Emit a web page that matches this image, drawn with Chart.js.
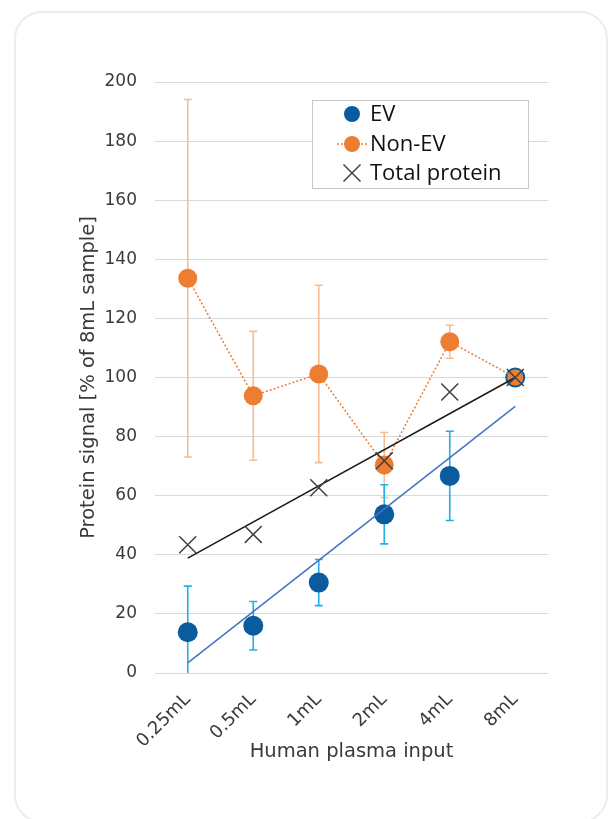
<!DOCTYPE html>
<html>
<head>
<meta charset="utf-8">
<script src="https://cdn.jsdelivr.net/npm/chart.js@4.4.0/dist/chart.umd.min.js"></script>
<style>
  html, body { margin: 0; padding: 0; background: #fff; width: 608px; height: 819px; overflow: hidden; }
  .card { position: absolute; left: 14px; top: 11px; width: 594px; height: 812px; box-sizing: border-box;
          border: 2px solid #ececec; border-radius: 28px; }
  #chart { position: absolute; left: 0; top: 0; }
</style>
</head>
<body>
<div class="card"></div>
<canvas id="chart" width="608" height="819"></canvas>
<script>
// Plasma input volumes on the category axis
const categories = ['0.25mL', '0.5mL', '1mL', '2mL', '4mL', '8mL'];

// Protein signal, % of the 8 mL sample
const evValues     = [13.8, 16.0, 30.6, 53.7, 66.7, 100];
const evErrors     = [15.6, 8.2, 7.8, 10.0, 15.1, 0];
const nonEvValues  = [133.6, 93.8, 101.2, 70.4, 112.1, 100];
const nonEvErrors  = [60.5, 21.8, 30.0, 11.0, 5.6, 0];
const totalProtein = [43.4, 46.9, 62.7, 71.8, 95.1, 100];

// Linear trendlines (end points only, the line spans the gap)
const evTrend    = [3.4, null, null, null, null, 90.2];
const totalTrend = [38.9, null, null, null, null, 100];

const yMin = 0, yMax = 200, yStep = 20;

const EV_BLUE = '#0A5C9E';
const EV_ERR = '#22B0EC';
const NONEV_ORANGE = '#ED7D31';
const NONEV_ERR = '#F7BC94';
const AXIS_TEXT = '#3a3a3a';
const FONT = '"DejaVu Sans", "Liberation Sans", Arial, sans-serif';

// Vertical error bars with caps, drawn beneath the markers
const errorBars = {
  id: 'errorBars',
  beforeDatasetsDraw(chart) {
    const { ctx, chartArea, scales: { y } } = chart;
    ctx.save();
    ctx.beginPath();
    ctx.rect(chartArea.left, chartArea.top, chartArea.right - chartArea.left, chartArea.bottom - chartArea.top);
    ctx.clip();
    chart.data.datasets.forEach((ds, di) => {
      if (!ds.errors) return;
      const meta = chart.getDatasetMeta(di);
      ctx.strokeStyle = ds.errorColor;
      ctx.lineWidth = 1.6;
      meta.data.forEach((pt, i) => {
        const e = ds.errors[i];
        if (!e) return;
        const v = ds.data[i];
        const top = y.getPixelForValue(v + e);
        const bot = y.getPixelForValue(v - e);
        const x = pt.x;
        ctx.beginPath();
        ctx.moveTo(x, top); ctx.lineTo(x, bot);
        ctx.moveTo(x - 4, top); ctx.lineTo(x + 4, top);
        ctx.moveTo(x - 4, bot); ctx.lineTo(x + 4, bot);
        ctx.stroke();
      });
    });
    ctx.restore();
  }
};

// Boxed legend placed inside the plot area
const boxLegend = {
  id: 'boxLegend',
  afterDraw(chart) {
    const { ctx } = chart;
    const bx = 312, by = 100, bw = 216, bh = 88;
    ctx.save();
    ctx.fillStyle = '#fff';
    ctx.fillRect(bx, by, bw, bh);
    ctx.strokeStyle = '#c8c8c8';
    ctx.lineWidth = 1;
    ctx.strokeRect(bx + 0.5, by + 0.5, bw, bh);

    const mx = 352, tx = 370;
    const rows = [114, 144, 173];
    ctx.font = '22px "Open Sans", "Noto Sans", sans-serif';
    ctx.textBaseline = 'middle';

    // EV
    ctx.beginPath(); ctx.arc(mx, rows[0], 8, 0, Math.PI * 2);
    ctx.fillStyle = EV_BLUE; ctx.fill();
    ctx.fillStyle = '#111'; ctx.fillText('EV', tx, rows[0] + 1);

    // Non-EV
    ctx.strokeStyle = NONEV_ORANGE; ctx.lineWidth = 1.5; ctx.setLineDash([2, 2]);
    ctx.beginPath(); ctx.moveTo(337, rows[1]); ctx.lineTo(367, rows[1]); ctx.stroke();
    ctx.setLineDash([]);
    ctx.beginPath(); ctx.arc(mx, rows[1], 8, 0, Math.PI * 2);
    ctx.fillStyle = NONEV_ORANGE; ctx.fill();
    ctx.fillStyle = '#111'; ctx.fillText('Non-EV', tx, rows[1] + 1);

    // Total protein
    const d = 8.5;
    ctx.strokeStyle = '#404040'; ctx.lineWidth = 1.5;
    ctx.beginPath();
    ctx.moveTo(mx - d, rows[2] - d); ctx.lineTo(mx + d, rows[2] + d);
    ctx.moveTo(mx - d, rows[2] + d); ctx.lineTo(mx + d, rows[2] - d);
    ctx.stroke();
    ctx.fillStyle = '#111'; ctx.fillText('Total protein', tx, rows[2] + 1);
    ctx.restore();
  }
};

new Chart(document.getElementById('chart'), {
  type: 'line',
  data: {
    labels: categories,
    datasets: [
      {
        label: 'Total protein',
        data: totalProtein,
        showLine: false,
        pointStyle: 'crossRot',
        pointRadius: 12,
        pointBorderColor: '#404040',
        pointBorderWidth: 1.5,
        order: 0
      },
      {
        label: 'Total protein trend',
        data: totalTrend,
        spanGaps: true,
        borderColor: '#1a1a1a',
        borderWidth: 1.5,
        pointRadius: 0,
        order: 1
      },
      {
        label: 'EV trend',
        data: evTrend,
        spanGaps: true,
        borderColor: '#4472C4',
        borderWidth: 1.5,
        pointRadius: 0,
        order: 1
      },
      {
        label: 'Non-EV',
        data: nonEvValues,
        errors: nonEvErrors,
        errorColor: NONEV_ERR,
        borderColor: NONEV_ORANGE,
        borderWidth: 1.5,
        borderDash: [2, 2],
        pointBackgroundColor: NONEV_ORANGE,
        pointBorderWidth: 0,
        pointRadius: (c) => c.dataIndex === categories.length - 1 ? 8 : 9.5,
        order: 2
      },
      {
        label: 'EV',
        data: evValues,
        errors: evErrors,
        errorColor: EV_ERR,
        showLine: false,
        pointBackgroundColor: EV_BLUE,
        pointBorderWidth: 0,
        pointRadius: 10,
        order: 3
      }
    ]
  },
  options: {
    responsive: false,
    animation: false,
    events: [],
    layout: { padding: { left: 15, right: 60, top: 82, bottom: 40 } },
    plugins: { legend: { display: false }, tooltip: { enabled: false } },
    scales: {
      x: {
        offset: true,
        grid: { display: false, drawTicks: false },
        border: { display: false },
        ticks: {
          color: AXIS_TEXT,
          font: { family: FONT, size: 18 },
          maxRotation: 45,
          minRotation: 45,
          padding: 16
        },
        title: {
          display: true,
          text: 'Human plasma input',
          color: AXIS_TEXT,
          font: { family: FONT, size: 19.5 },
          padding: { top: 0, bottom: 15 }
        },
        afterFit(scale) { scale.height = 106; }
      },
      y: {
        min: yMin,
        max: yMax,
        ticks: {
          stepSize: yStep,
          color: AXIS_TEXT,
          font: { family: FONT, size: 17 },
          padding: 18
        },
        grid: { color: '#d9d9d9', lineWidth: 1, drawTicks: false },
        border: { display: false },
        title: {
          display: true,
          text: 'Protein signal [% of 8mL sample]',
          color: AXIS_TEXT,
          font: { family: FONT, size: 19.5 },
          padding: { top: 62, bottom: 0 }
        },
        afterFit(scale) { scale.width = 140; }
      }
    }
  },
  plugins: [errorBars, boxLegend]
});
</script>
</body>
</html>
